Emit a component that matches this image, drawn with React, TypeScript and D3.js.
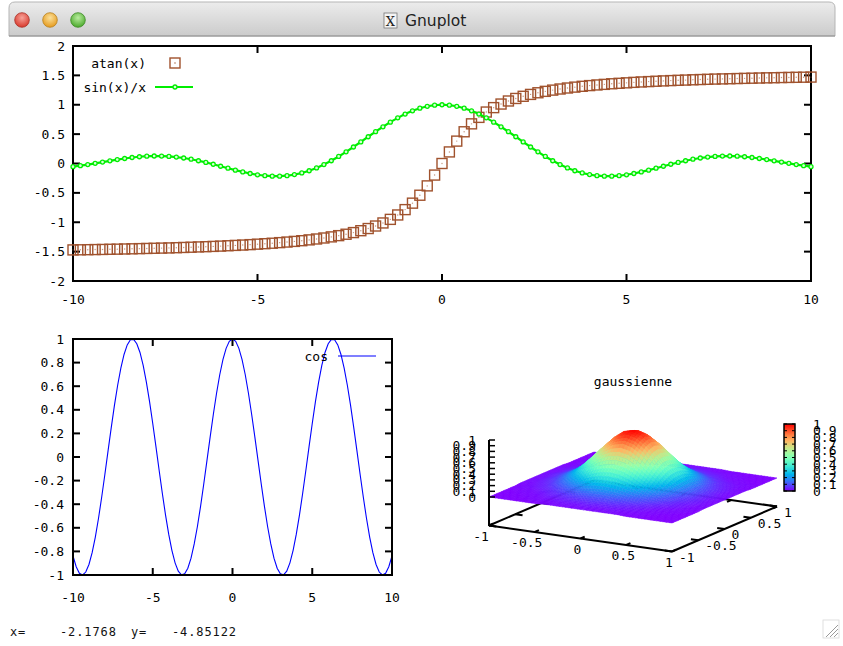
import React, { useMemo } from "react";
import * as d3 from "d3";

// sample positions used by gnuplot for the 1D plots
const sampleX = [-10, -9.8, -9.6, -9.4, -9.2, -9, -8.8, -8.6, -8.4, -8.2, -8, -7.8, -7.6, -7.4, -7.2, -7, -6.8, -6.6, -6.4, -6.2, -6, -5.8, -5.6, -5.4, -5.2, -5, -4.8, -4.6, -4.4, -4.2, -4, -3.8, -3.6, -3.4, -3.2, -3, -2.8, -2.6, -2.4, -2.2, -2, -1.8, -1.6, -1.4, -1.2, -1, -0.8, -0.6, -0.4, -0.2, 0, 0.2, 0.4, 0.6, 0.8, 1, 1.2, 1.4, 1.6, 1.8, 2, 2.2, 2.4, 2.6, 2.8, 3, 3.2, 3.4, 3.6, 3.8, 4, 4.2, 4.4, 4.6, 4.8, 5, 5.2, 5.4, 5.6, 5.8, 6, 6.2, 6.4, 6.6, 6.8, 7, 7.2, 7.4, 7.6, 7.8, 8, 8.2, 8.4, 8.6, 8.8, 9, 9.2, 9.4, 9.6, 9.8, 10];

const atanY = [-1.471, -1.469, -1.467, -1.465, -1.463, -1.46, -1.458, -1.455, -1.452, -1.449, -1.446, -1.443, -1.44, -1.437, -1.433, -1.429, -1.425, -1.42, -1.416, -1.411, -1.406, -1.4, -1.394, -1.388, -1.381, -1.373, -1.365, -1.357, -1.347, -1.337, -1.326, -1.314, -1.3, -1.285, -1.268, -1.249, -1.228, -1.204, -1.176, -1.144, -1.107, -1.064, -1.012, -0.951, -0.876, -0.785, -0.675, -0.54, -0.381, -0.197,
  0,
  0.197, 0.381, 0.54, 0.675, 0.785, 0.876, 0.951, 1.012, 1.064, 1.107, 1.144, 1.176, 1.204, 1.228, 1.249, 1.268, 1.285, 1.3, 1.314, 1.326, 1.337, 1.347, 1.357, 1.365, 1.373, 1.381, 1.388, 1.394, 1.4, 1.406, 1.411, 1.416, 1.42, 1.425, 1.429, 1.433, 1.437, 1.44, 1.443, 1.446, 1.449, 1.452, 1.455, 1.458, 1.46, 1.463, 1.465, 1.467, 1.469, 1.471];

const sincY = [-0.054, -0.037, -0.018, 0.003, 0.024, 0.046, 0.066, 0.085, 0.102, 0.115, 0.124, 0.128, 0.127, 0.121, 0.11, 0.094, 0.073, 0.047, 0.018, -0.013, -0.047, -0.08, -0.113, -0.143, -0.17, -0.192, -0.208, -0.216, -0.216, -0.208, -0.189, -0.161, -0.123, -0.075, -0.018, 0.047, 0.12, 0.198, 0.281, 0.368, 0.455, 0.541, 0.625, 0.704, 0.777, 0.841, 0.897, 0.941, 0.974, 0.993,
  1,
  0.993, 0.974, 0.941, 0.897, 0.841, 0.777, 0.704, 0.625, 0.541, 0.455, 0.368, 0.281, 0.198, 0.12, 0.047, -0.018, -0.075, -0.123, -0.161, -0.189, -0.208, -0.216, -0.216, -0.208, -0.192, -0.17, -0.143, -0.113, -0.08, -0.047, -0.013, 0.018, 0.047, 0.073, 0.094, 0.11, 0.121, 0.127, 0.128, 0.124, 0.115, 0.102, 0.085, 0.066, 0.046, 0.024, 0.003, -0.018, -0.037, -0.054];

const cosY = [-0.839, -0.93, -0.985, -1, -0.975, -0.911, -0.811, -0.679, -0.519, -0.339, -0.146, 0.054, 0.251, 0.439, 0.608, 0.754, 0.869, 0.95, 0.993, 0.997, 0.96, 0.886, 0.776, 0.635, 0.469, 0.284, 0.088, -0.112, -0.307, -0.49, -0.654, -0.791, -0.897, -0.967, -0.998, -0.99, -0.942, -0.857, -0.737, -0.589, -0.416, -0.227, -0.029, 0.17, 0.362, 0.54, 0.697, 0.825, 0.921, 0.98,
  1,
  0.98, 0.921, 0.825, 0.697, 0.54, 0.362, 0.17, -0.029, -0.227, -0.416, -0.589, -0.737, -0.857, -0.942, -0.99, -0.998, -0.967, -0.897, -0.791, -0.654, -0.49, -0.307, -0.112, 0.088, 0.284, 0.469, 0.635, 0.776, 0.886, 0.96, 0.997, 0.993, 0.95, 0.869, 0.754, 0.608, 0.439, 0.251, 0.054, -0.146, -0.339, -0.519, -0.679, -0.811, -0.911, -0.975, -1, -0.985, -0.93, -0.839];

const xTicks = [-10, -5, 0, 5, 10];
const topYTicks = [-2, -1.5, -1, -0.5, 0, 0.5, 1, 1.5, 2];
const cosYTicks = [-1, -0.8, -0.6, -0.4, -0.2, 0, 0.2, 0.4, 0.6, 0.8, 1];

// gaussienne grid
const gaussX = [-1, -0.9, -0.8, -0.7, -0.6, -0.5, -0.4, -0.3, -0.2, -0.1, 0, 0.1, 0.2, 0.3, 0.4, 0.5, 0.6, 0.7, 0.8, 0.9, 1];
const gaussY = [-1, -0.9, -0.8, -0.7, -0.6, -0.5, -0.4, -0.3, -0.2, -0.1, 0, 0.1, 0.2, 0.3, 0.4, 0.5, 0.6, 0.7, 0.8, 0.9, 1];
const gaussZ = [
  [0, 0, 0, 0, 0, 0, 0.01, 0.01, 0.01, 0.01, 0.01, 0.01, 0.01, 0.01, 0.01, 0, 0, 0, 0, 0, 0],
  [0, 0, 0, 0, 0.01, 0.01, 0.01, 0.02, 0.02, 0.02, 0.03, 0.02, 0.02, 0.02, 0.01, 0.01, 0.01, 0, 0, 0, 0],
  [0, 0, 0, 0.01, 0.01, 0.02, 0.03, 0.04, 0.05, 0.05, 0.06, 0.05, 0.05, 0.04, 0.03, 0.02, 0.01, 0.01, 0, 0, 0],
  [0, 0, 0.01, 0.01, 0.02, 0.04, 0.05, 0.07, 0.09, 0.11, 0.11, 0.11, 0.09, 0.07, 0.05, 0.04, 0.02, 0.01, 0.01, 0, 0],
  [0, 0.01, 0.01, 0.02, 0.04, 0.06, 0.1, 0.13, 0.17, 0.19, 0.2, 0.19, 0.17, 0.13, 0.1, 0.06, 0.04, 0.02, 0.01, 0.01, 0],
  [0, 0.01, 0.02, 0.04, 0.06, 0.11, 0.16, 0.22, 0.27, 0.31, 0.32, 0.31, 0.27, 0.22, 0.16, 0.11, 0.06, 0.04, 0.02, 0.01, 0],
  [0.01, 0.01, 0.03, 0.05, 0.1, 0.16, 0.24, 0.32, 0.41, 0.47, 0.49, 0.47, 0.41, 0.32, 0.24, 0.16, 0.1, 0.05, 0.03, 0.01, 0.01],
  [0.01, 0.02, 0.04, 0.07, 0.13, 0.22, 0.32, 0.44, 0.56, 0.64, 0.67, 0.64, 0.56, 0.44, 0.32, 0.22, 0.13, 0.07, 0.04, 0.02, 0.01],
  [0.01, 0.02, 0.05, 0.09, 0.17, 0.27, 0.41, 0.56, 0.7, 0.8, 0.84, 0.8, 0.7, 0.56, 0.41, 0.27, 0.17, 0.09, 0.05, 0.02, 0.01],
  [0.01, 0.02, 0.05, 0.11, 0.19, 0.31, 0.47, 0.64, 0.8, 0.91, 0.96, 0.91, 0.8, 0.64, 0.47, 0.31, 0.19, 0.11, 0.05, 0.02, 0.01],
  [0.01, 0.03, 0.06, 0.11, 0.2, 0.32, 0.49, 0.67, 0.84, 0.96, 1, 0.96, 0.84, 0.67, 0.49, 0.32, 0.2, 0.11, 0.06, 0.03, 0.01],
  [0.01, 0.02, 0.05, 0.11, 0.19, 0.31, 0.47, 0.64, 0.8, 0.91, 0.96, 0.91, 0.8, 0.64, 0.47, 0.31, 0.19, 0.11, 0.05, 0.02, 0.01],
  [0.01, 0.02, 0.05, 0.09, 0.17, 0.27, 0.41, 0.56, 0.7, 0.8, 0.84, 0.8, 0.7, 0.56, 0.41, 0.27, 0.17, 0.09, 0.05, 0.02, 0.01],
  [0.01, 0.02, 0.04, 0.07, 0.13, 0.22, 0.32, 0.44, 0.56, 0.64, 0.67, 0.64, 0.56, 0.44, 0.32, 0.22, 0.13, 0.07, 0.04, 0.02, 0.01],
  [0.01, 0.01, 0.03, 0.05, 0.1, 0.16, 0.24, 0.32, 0.41, 0.47, 0.49, 0.47, 0.41, 0.32, 0.24, 0.16, 0.1, 0.05, 0.03, 0.01, 0.01],
  [0, 0.01, 0.02, 0.04, 0.06, 0.11, 0.16, 0.22, 0.27, 0.31, 0.32, 0.31, 0.27, 0.22, 0.16, 0.11, 0.06, 0.04, 0.02, 0.01, 0],
  [0, 0.01, 0.01, 0.02, 0.04, 0.06, 0.1, 0.13, 0.17, 0.19, 0.2, 0.19, 0.17, 0.13, 0.1, 0.06, 0.04, 0.02, 0.01, 0.01, 0],
  [0, 0, 0.01, 0.01, 0.02, 0.04, 0.05, 0.07, 0.09, 0.11, 0.11, 0.11, 0.09, 0.07, 0.05, 0.04, 0.02, 0.01, 0.01, 0, 0],
  [0, 0, 0, 0.01, 0.01, 0.02, 0.03, 0.04, 0.05, 0.05, 0.06, 0.05, 0.05, 0.04, 0.03, 0.02, 0.01, 0.01, 0, 0, 0],
  [0, 0, 0, 0, 0.01, 0.01, 0.01, 0.02, 0.02, 0.02, 0.03, 0.02, 0.02, 0.02, 0.01, 0.01, 0.01, 0, 0, 0, 0],
  [0, 0, 0, 0, 0, 0, 0.01, 0.01, 0.01, 0.01, 0.01, 0.01, 0.01, 0.01, 0.01, 0, 0, 0, 0, 0, 0],
];
const axisTicks3d = [-1, -0.5, 0, 0.5, 1];
const zTicks = [0, 0.1, 0.2, 0.3, 0.4, 0.5, 0.6, 0.7, 0.8, 0.9, 1];

const MONO = "'DejaVu Sans Mono', monospace";
const SIENNA = "#a0522d";
const GREEN = "#00ee00";
const BLUE = "#0000ff";

// rgbformulae 33,13,10
function palette(t: number) {
  const c = (v: number) => Math.round(255 * Math.max(0, Math.min(1, v)));
  return `rgb(${c(Math.abs(2 * t - 0.5))},${c(Math.sin(Math.PI * t))},${c(Math.cos((Math.PI * t) / 2))})`;
}

// view 60,30 projection
const p3x = d3.scaleLinear().domain([-1, 1]).range([-91.5, 91.5]);
const p3xy = d3.scaleLinear().domain([-1, 1]).range([-13, 13]);
const p3y = d3.scaleLinear().domain([-1, 1]).range([-52.5, 52.5]);
const p3yy = d3.scaleLinear().domain([-1, 1]).range([22.5, -22.5]);
const p3z = d3.scaleLinear().domain([0, 1]).range([0, -57]);
const proj = (x: number, y: number, z: number): [number, number] => [
  633 + p3x(x) + p3y(y),
  487.5 + p3xy(x) + p3yy(y) + p3z(z),
];
const BASE = -0.5;

function seg(a: [number, number], b: [number, number], key: string, w = 2) {
  return <line key={key} x1={a[0]} y1={a[1]} x2={b[0]} y2={b[1]} stroke="#000" strokeWidth={w} />;
}

export default function App() {
  // top plot
  const xTop = d3.scaleLinear().domain([-10, 10]).range([73, 811]);
  const yTop = d3.scaleLinear().domain([-2, 2]).range([281, 46]);
  // bottom-left plot
  const xCos = d3.scaleLinear().domain([-10, 10]).range([73, 392]);
  const yCos = d3.scaleLinear().domain([-1, 1]).range([575, 339]);
  const cbY = d3.scaleLinear().domain([0, 1]).range([491, 424]);

  const sincLine = d3.line<number>().x((_, i) => xTop(sampleX[i])).y((d) => yTop(d))(sincY) || "";
  const cosLine = d3.line<number>().x((_, i) => xCos(sampleX[i])).y((d) => yCos(d))(cosY) || "";

  const quads = useMemo(() => {
    const out: { d: string; fill: string; depth: number }[] = [];
    const N = 3; // pm3d interpolate 3,3
    for (let i = 0; i < gaussY.length - 1; i++) {
      for (let j = 0; j < gaussX.length - 1; j++) {
        const z00 = gaussZ[i][j], z01 = gaussZ[i][j + 1], z10 = gaussZ[i + 1][j], z11 = gaussZ[i + 1][j + 1];
        const corner = (u: number, v: number) => ({
          x: gaussX[j] + (gaussX[j + 1] - gaussX[j]) * u,
          y: gaussY[i] + (gaussY[i + 1] - gaussY[i]) * v,
          z: z00 * (1 - u) * (1 - v) + z01 * u * (1 - v) + z10 * (1 - u) * v + z11 * u * v,
        });
        for (let a = 0; a < N; a++) {
          for (let b = 0; b < N; b++) {
            const pts = [corner(b / N, a / N), corner((b + 1) / N, a / N), corner((b + 1) / N, (a + 1) / N), corner(b / N, (a + 1) / N)];
            const zc = d3.mean(pts, (p) => p.z) || 0;
            const xc = d3.mean(pts, (p) => p.x) || 0;
            const yc = d3.mean(pts, (p) => p.y) || 0;
            const d = "M" + pts.map((p) => proj(p.x, p.y, p.z).map((v) => v.toFixed(2)).join(",")).join("L") + "Z";
            out.push({ d, fill: palette(zc), depth: yc - 0.578 * xc });
          }
        }
      }
    }
    out.sort((p, q) => q.depth - p.depth);
    return out;
  }, []);

  const cbStops = d3.range(0, 1.0001, 0.05);

  return (
    <svg width={843} height={646} style={{ position: "absolute", left: 0, top: 0, background: "#fff" }}>
      <defs>
        <linearGradient id="titlebar" x1="0" y1="0" x2="0" y2="1">
          <stop offset="0" stopColor="#ececec" />
          <stop offset="1" stopColor="#cbcbcb" />
        </linearGradient>
        <linearGradient id="cbar" x1="0" y1="1" x2="0" y2="0">
          {cbStops.map((t) => (
            <stop key={t} offset={t} stopColor={palette(t)} />
          ))}
        </linearGradient>
        {[
          ["btnR", "#f7a39a", "#d8382b"],
          ["btnO", "#fbe09a", "#e59a1d"],
          ["btnG", "#b9ec9f", "#4aa92b"],
        ].map(([id, a, b]) => (
          <radialGradient key={id} id={id} cx="0.5" cy="0.35" r="0.65">
            <stop offset="0" stopColor={a} />
            <stop offset="1" stopColor={b} />
          </radialGradient>
        ))}
      </defs>
      <rect x={0} y={0} width={843} height={646} fill="#fff" />

      {/* window title bar */}
      <path d="M9,36 L9,8 Q9,2 15,2 L829,2 Q835,2 835,8 L835,36 Z" fill="url(#titlebar)" stroke="#b5b5b5" strokeWidth={1} />
      <line x1={9} y1={36} x2={835} y2={36} stroke="#8e8e8e" strokeWidth={1} />
      {[
        [22, "btnR", "#a8322a"],
        [50, "btnO", "#b7811f"],
        [78, "btnG", "#3d8a27"],
      ].map(([cx, id, st]) => (
        <circle key={id as string} cx={cx as number} cy={20} r={7.3} fill={`url(#${id})`} stroke={st as string} strokeWidth={0.8} />
      ))}
      <rect x={384} y={13} width={13} height={15} fill="#f4f4f4" stroke="#777" strokeWidth={0.8} />
      <text x={390.5} y={26} textAnchor="middle" fontFamily="'DejaVu Serif', serif" fontSize={13} fill="#222">X</text>
      <text x={405} y={26} fontFamily="'DejaVu Sans', sans-serif" fontSize={15.5} fill="#222">Gnuplot</text>

      {/* ===== top plot ===== */}
      <g fontFamily={MONO} fontSize={13} fill="#000">
        {topYTicks.map((t) => (
          <g key={`ty${t}`}>
            {seg([73, yTop(t)], [80, yTop(t)], "l")}
            {seg([811, yTop(t)], [804, yTop(t)], "r")}
            <text x={65} y={yTop(t) + 4.5} textAnchor="end">{String(t)}</text>
          </g>
        ))}
        {xTicks.map((t) => (
          <g key={`tx${t}`}>
            {seg([xTop(t), 281], [xTop(t), 274], "b")}
            {seg([xTop(t), 46], [xTop(t), 53], "t")}
            <text x={xTop(t)} y={304} textAnchor="middle">{String(t)}</text>
          </g>
        ))}
      </g>
      <rect x={73} y={46} width={738} height={235} fill="none" stroke="#000" strokeWidth={2} />

      {/* atan(x) squares */}
      <g stroke={SIENNA} strokeWidth={1.4} fill="none">
        {atanY.map((v, i) => (
          <rect key={i} x={xTop(sampleX[i]) - 5} y={yTop(v) - 5} width={10} height={10} />
        ))}
      </g>
      <g fill={SIENNA} opacity={0.6}>
        {atanY.map((v, i) => (
          <circle key={i} cx={xTop(sampleX[i])} cy={yTop(v)} r={0.7} />
        ))}
      </g>
      {/* sin(x)/x linespoints */}
      <path d={sincLine} fill="none" stroke={GREEN} strokeWidth={2.2} />
      <g stroke={GREEN} strokeWidth={1.3} fill="#d8ffd8">
        {sincY.map((v, i) => (
          <circle key={i} cx={xTop(sampleX[i])} cy={yTop(v)} r={2} />
        ))}
      </g>

      {/* legend */}
      <g fontFamily={MONO} fontSize={13} fill="#000">
        <text x={146} y={67.5} textAnchor="end">atan(x)</text>
        <text x={146} y={91.5} textAnchor="end">sin(x)/x</text>
      </g>
      <rect x={170} y={58} width={10} height={10} fill="none" stroke={SIENNA} strokeWidth={1.4} />
      <circle cx={175} cy={63} r={0.7} fill={SIENNA} />
      <line x1={155} y1={87} x2={193} y2={87} stroke={GREEN} strokeWidth={2.2} />
      <circle cx={175} cy={87} r={2} fill="#d8ffd8" stroke={GREEN} strokeWidth={1.3} />

      {/* ===== bottom-left cos plot ===== */}
      <path d={cosLine} fill="none" stroke={BLUE} strokeWidth={1.1} />
      <g fontFamily={MONO} fontSize={13} fill="#000">
        {cosYTicks.map((t) => (
          <g key={`cy${t}`}>
            {seg([73, yCos(t)], [80, yCos(t)], "l")}
            {seg([392, yCos(t)], [385, yCos(t)], "r")}
            <text x={64} y={yCos(t) + 4.5} textAnchor="end">{String(t)}</text>
          </g>
        ))}
        {xTicks.map((t) => (
          <g key={`cx${t}`}>
            {seg([xCos(t), 575], [xCos(t), 568], "b")}
            {seg([xCos(t), 339], [xCos(t), 346], "t")}
            <text x={xCos(t)} y={601.5} textAnchor="middle">{String(t)}</text>
          </g>
        ))}
        <text x={328} y={360.5} textAnchor="end">cos</text>
      </g>
      <line x1={338} y1={356} x2={376} y2={356} stroke={BLUE} strokeWidth={1.1} />
      <rect x={73} y={339} width={319} height={236} fill="none" stroke="#000" strokeWidth={2} />

      {/* ===== gaussienne 3D ===== */}
      <text x={633} y={386} textAnchor="middle" fontFamily={MONO} fontSize={13}>gaussienne</text>
      {/* hidden base edges first */}
      {seg(proj(1, 1, BASE), proj(-1, 1, BASE), "back")}
      {seg(proj(-1, 1, BASE), proj(-1, -1, BASE), "left")}
      {axisTicks3d.map((t) => (
        <g key={`m${t}`}>
          {seg(proj(t, 1, BASE), proj(t, 0.92, BASE), "xm")}
          {seg(proj(-1, t, BASE), proj(-0.92, t, BASE), "ym")}
        </g>
      ))}
      <g>
        {quads.map((q, k) => (
          <path key={k} d={q.d} fill={q.fill} stroke={q.fill} strokeWidth={0.5} />
        ))}
      </g>
      {seg(proj(-1, -1, BASE), proj(1, -1, BASE), "front")}
      {seg(proj(1, -1, BASE), proj(1, 1, BASE), "right")}
      {seg([489, 526], [489, 440], "zaxis")}
      {axisTicks3d.map((t) => (
        <g key={`t3${t}`}>
          {seg(proj(t, -1, BASE), proj(t, -0.92, BASE), "xt")}
          {seg(proj(1, t, BASE), proj(0.92, t, BASE), "yt")}
        </g>
      ))}
      <g fontFamily={MONO} fontSize={13} fill="#000">
        {axisTicks3d.map((t) => {
          const p = proj(t, -1, BASE);
          return (
            <text key={`xl${t}`} x={p[0] - 3 - (t < 0 ? 5 : 0)} y={p[1] + 15} textAnchor="middle">{String(t)}</text>
          );
        })}
        {axisTicks3d.map((t) => {
          const p = proj(1, t, BASE);
          return (
            <text key={`yl${t}`} x={p[0] + 7} y={p[1] + 10} textAnchor="start">{String(t)}</text>
          );
        })}
        {zTicks.map((t) => {
          const y = 487.5 - 13 + 22.5 + p3z(t);
          return (
            <g key={`zl${t}`}>
              {seg([489, y], [495, y], "zt", 1.5)}
              <text x={476} y={y + 4.5} textAnchor="end">{String(t)}</text>
            </g>
          );
        })}
        {/* colour box */}
        <rect x={784} y={424} width={11} height={67} fill="url(#cbar)" stroke="#000" strokeWidth={1.5} />
        {zTicks.map((t) => (
          <g key={`cb${t}`}>
            {seg([784, cbY(t)], [787, cbY(t)], "cl", 1)}
            {seg([795, cbY(t)], [792, cbY(t)], "cr", 1)}
            <text x={813} y={cbY(t) + 4.5} textAnchor="start">{String(t)}</text>
          </g>
        ))}
      </g>

      {/* status line */}
      <g fontFamily={MONO} fontSize={12} letterSpacing={0.9} fill="#111">
        <text x={10} y={636}>x=</text>
        <text x={60} y={636}>-2.1768</text>
        <text x={131} y={636}>y=</text>
        <text x={172} y={636}>-4.85122</text>
      </g>
      {/* resize grip */}
      <g stroke="#9a9a9a" strokeWidth={1}>
        <line x1={826} y1={637} x2={838} y2={625} />
        <line x1={830} y1={637} x2={838} y2={629} />
        <line x1={834} y1={637} x2={838} y2={633} />
      </g>
      <rect x={823} y={620} width={16} height={18} fill="none" stroke="#d8d8d8" strokeWidth={0.8} />
    </svg>
  );
}
